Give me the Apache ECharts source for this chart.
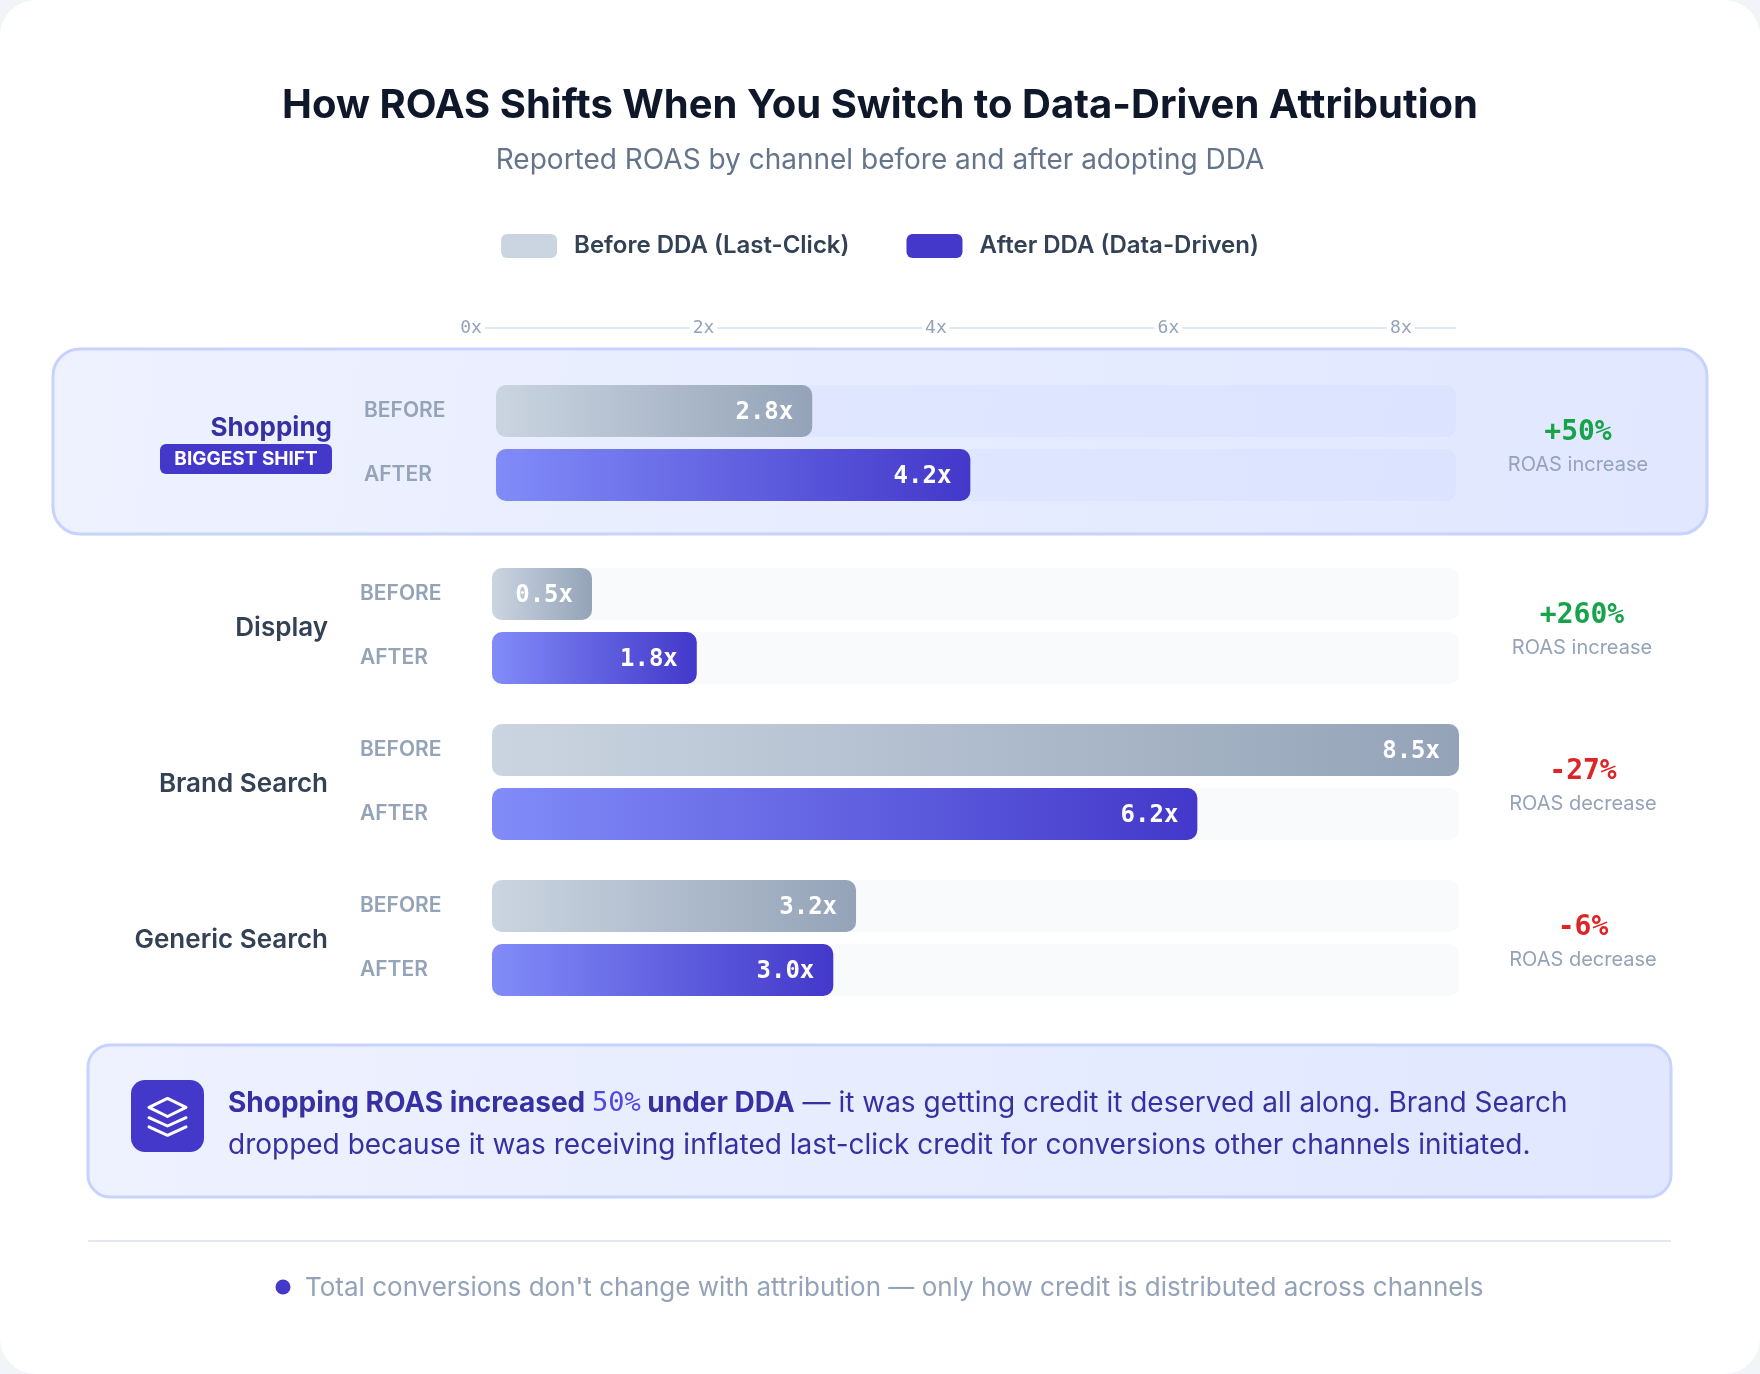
<!DOCTYPE html>
<html><head><meta charset="utf-8">
<script src="https://cdn.jsdelivr.net/npm/echarts@6/dist/echarts.min.js"></script>
<style>html,body{margin:0;padding:0;background:#f1f5f9}#c{width:1760px;height:1374px}</style>
</head><body><div id="c"></div><script>
// ---- data ----
const channels = ['Shopping', 'Display', 'Brand Search', 'Generic Search'];
const beforeROAS = [2.8, 0.5, 8.5, 3.2];
const afterROAS = [4.2, 1.8, 6.2, 3.0];
const rowLabels = ['BEFORE', 'AFTER'];
const axisTickValues = [0, 2, 4, 6, 8];
const seriesNames = ['Before DDA (Last-Click)', 'After DDA (Data-Driven)'];
const highlightChannel = 'Shopping';
const titleText = 'How ROAS Shifts When You Switch to Data-Driven Attribution';
const subtitleText = 'Reported ROAS by channel before and after adopting DDA';
const footerText = "Total conversions don't change with attribution \u2014 only how credit is distributed across channels";

// ---- layout ----
const W = 1760, H = 1374;
const groupTop = [379, 562, 718, 874];   // grid tops (each group = 2 rows x 64px)
const rowH = 64, barH = 52;
const maxVal = Math.max(...beforeROAS, ...afterROAS);
const INTER = 'Inter, "Noto Sans", sans-serif';
const MONO = '"DejaVu Sans Mono", "Liberation Mono", monospace';

const pct = beforeROAS.map((b, i) => Math.round((afterROAS[i] - b) / b * 100));
const fmtPct = p => (p > 0 ? '+' : '-') + Math.abs(p) + '%';

const grids = [], xAxes = [], yAxes = [], series = [];
channels.forEach((ch, i) => {
  const hl = ch === highlightChannel;
  const left = hl ? 496 : 492;
  const width = hl ? 960 : 967;
  grids.push({ left: left, top: groupTop[i], width: width, height: rowH * 2 });
  xAxes.push({ type: 'value', gridIndex: i, min: 0, max: maxVal, show: false });
  yAxes.push({
    type: 'category', gridIndex: i, data: rowLabels, inverse: true,
    axisLine: { show: false }, axisTick: { show: false }, splitLine: { show: false },
    axisLabel: { align: 'left', margin: left - (hl ? 364 : 360), color: '#94a3b8',
      fontSize: 21, fontWeight: 600, fontFamily: INTER, padding: [5, 0, 0, 0] }
  });
  const track = hl ? 'rgba(199,210,254,0.1)' : '#f8fafc';
  const common = {
    type: 'bar', xAxisIndex: i, yAxisIndex: i, barWidth: barH, barGap: '-100%',
    barMinHeight: 100,
    showBackground: true, backgroundStyle: { color: track, borderRadius: 10 },
    label: { show: true, position: 'insideRight', distance: 19, offset: [0, 2], color: '#fff',
      fontFamily: MONO, fontWeight: 'bold', fontSize: 24,
      formatter: p => Number(p.value).toFixed(1) + 'x' }
  };
  series.push(Object.assign({}, common, {
    name: seriesNames[0], data: [beforeROAS[i], '-'],
    itemStyle: { borderRadius: 10, color: { type: 'linear', x: 0, y: 0, x2: 1, y2: 0,
      colorStops: [{ offset: 0, color: '#cbd5e1' }, { offset: 1, color: '#94a3b8' }] } }
  }));
  series.push(Object.assign({}, common, {
    name: seriesNames[1], data: ['-', afterROAS[i]],
    itemStyle: { borderRadius: 10, color: { type: 'linear', x: 0, y: 0, x2: 1, y2: 0,
      colorStops: [{ offset: 0, color: '#818cf8' }, { offset: 1, color: '#4338ca' }] } }
  }));
});

// top scale axis
const gi = channels.length;
grids.push({ left: 471, top: 327, width: 988, height: 1 });
xAxes.push({
  type: 'value', gridIndex: gi, min: 0, max: maxVal, interval: 2, position: 'bottom',
  axisLine: { show: true, lineStyle: { color: '#e2e8f0', width: 2 } },
  axisTick: { show: false }, splitLine: { show: false },
  axisLabel: { margin: 0, verticalAlign: 'middle', color: '#94a3b8', fontFamily: MONO, fontSize: 18,
    backgroundColor: '#ffffff', padding: [2, 3],
    formatter: v => axisTickValues.indexOf(v) >= 0 ? v + 'x' : '' }
});
yAxes.push({ type: 'value', gridIndex: gi, show: false, min: 0, max: 1 });

// ---- graphic decorations ----
const graphics = [];
graphics.push({ type: 'rect', z: -20, shape: { x: 0, y: 0, width: W, height: H, r: 36 }, style: { fill: '#ffffff' } });
graphics.push({ type: 'text', x: 880, y: 106, z: 50, style: { text: titleText, align: 'center', verticalAlign: 'middle',
  fill: '#0f172a', fontFamily: INTER, fontWeight: 700, fontSize: 40 } });
graphics.push({ type: 'text', x: 880, y: 161, z: 50, style: { text: subtitleText, align: 'center', verticalAlign: 'middle',
  fill: '#64748b', fontFamily: INTER, fontSize: 28 } });
// highlight card
graphics.push({ type: 'rect', z: -10, shape: { x: 53, y: 349, width: 1654, height: 185, r: 27 },
  style: { fill: { type: 'linear', x: 0, y: 0, x2: 1, y2: 1, colorStops: [{ offset: 0, color: '#eef2ff' }, { offset: 1, color: '#e0e7ff' }] },
    stroke: '#c7d2fe', lineWidth: 3 } });

const nameY = [428, 628, 784, 940];
const changeX = [1578, 1582, 1583, 1583];
channels.forEach((ch, i) => {
  const hl = ch === highlightChannel;
  graphics.push({ type: 'text', x: hl ? 332 : 328, y: nameY[i], z: 50, style: { text: ch, align: 'right', verticalAlign: 'middle',
    fill: hl ? '#3730a3' : '#334155', fontFamily: INTER, fontWeight: hl ? 700 : 600, fontSize: 26 } });
  if (hl) {
    graphics.push({ type: 'rect', z: 40, shape: { x: 160, y: 444, width: 172, height: 30, r: 6 }, style: { fill: '#4338ca' } });
    graphics.push({ type: 'text', x: 246, y: 459.5, z: 50, style: { text: 'BIGGEST SHIFT', align: 'center', verticalAlign: 'middle',
      fill: '#ffffff', fontFamily: INTER, fontWeight: 700, fontSize: 19 } });
  }
  const cy = groupTop[i] + rowH - 10;
  graphics.push({ type: 'text', x: changeX[i], y: cy, z: 50, style: { text: fmtPct(pct[i]), align: 'center', verticalAlign: 'middle',
    fill: pct[i] >= 0 ? '#16a34a' : '#dc2626', fontFamily: MONO, fontWeight: 'bold', fontSize: 28 } });
  graphics.push({ type: 'text', x: changeX[i], y: cy + 32, z: 50, style: { text: pct[i] >= 0 ? 'ROAS increase' : 'ROAS decrease',
    align: 'center', verticalAlign: 'middle', fill: '#94a3b8', fontFamily: INTER, fontSize: 20 } });
});

// callout
graphics.push({ type: 'rect', z: -10, shape: { x: 88, y: 1045, width: 1583, height: 152, r: 22 },
  style: { fill: { type: 'linear', x: 0, y: 0, x2: 1, y2: 1, colorStops: [{ offset: 0, color: '#eef2ff' }, { offset: 1, color: '#e0e7ff' }] },
    stroke: '#c7d2fe', lineWidth: 3 } });
graphics.push({ type: 'rect', z: 40, shape: { x: 131, y: 1080, width: 73, height: 72, r: 14 }, style: { fill: '#4338ca' } });
const iconStroke = { fill: null, stroke: '#ffffff', lineWidth: 3, lineJoin: 'round', lineCap: 'round' };
graphics.push({ type: 'polygon', z: 45, shape: { points: [[167.5, 1098.4], [149, 1107.3], [167.5, 1116.5], [186, 1107.3]] }, style: iconStroke });
graphics.push({ type: 'polyline', z: 45, shape: { points: [[186, 1117.7], [167.5, 1126], [149, 1117.7]] }, style: iconStroke });
graphics.push({ type: 'polyline', z: 45, shape: { points: [[186, 1126.9], [167.5, 1135.3], [149, 1126.9]] }, style: iconStroke });
const shopIdx = channels.indexOf(highlightChannel);
const richStyles = {
  b: { fill: '#3730a3', fontFamily: INTER, fontWeight: 700, fontSize: 28 },
  m: { fill: '#4f46e5', fontFamily: MONO, fontWeight: 500, fontSize: 27 },
  r: { fill: '#3730a3', fontFamily: INTER, fontWeight: 400, fontSize: 28 }
};
graphics.push({ type: 'text', x: 228, y: 1104, z: 50, style: {
  text: '{b|' + highlightChannel + ' ROAS increased }{m|' + Math.abs(pct[shopIdx]) + '%}{b| under DDA}{r| \u2014 it was getting credit it deserved all along. Brand Search}',
  verticalAlign: 'middle', align: 'left', rich: richStyles } });
graphics.push({ type: 'text', x: 228, y: 1146, z: 50, style: {
  text: '{r|dropped because it was receiving inflated last-click credit for conversions other channels initiated.}',
  verticalAlign: 'middle', align: 'left', rich: richStyles } });
// divider + footer
graphics.push({ type: 'line', z: 10, shape: { x1: 88, y1: 1241, x2: 1671, y2: 1241 }, style: { stroke: '#e2e8f0', lineWidth: 2 } });
graphics.push({ type: 'circle', z: 10, shape: { cx: 283, cy: 1287, r: 7.5 }, style: { fill: '#4338ca' } });
graphics.push({ type: 'text', x: 305, y: 1288, z: 50, style: { text: footerText, align: 'left', verticalAlign: 'middle',
  fill: '#94a3b8', fontFamily: INTER, fontSize: 26 } });

const chart = echarts.init(document.getElementById('c'), null, { renderer: 'canvas' });
chart.setOption({
  backgroundColor: '#f1f5f9',
  animation: false,
  textStyle: { fontFamily: INTER },
  legend: {
    top: 229, left: 'center', itemWidth: 56, itemHeight: 24, itemGap: 57, icon: 'roundRect',
    selectedMode: false,
    textStyle: { fontSize: 24, fontWeight: 600, color: '#334155', fontFamily: INTER, padding: [0, 0, 0, 12] },
    data: [
      { name: seriesNames[0], itemStyle: { color: '#cbd5e1' } },
      { name: seriesNames[1], itemStyle: { color: '#4338ca' } }
    ]
  },
  grid: grids, xAxis: xAxes, yAxis: yAxes, series: series,
  graphic: graphics
});
</script></body></html>
